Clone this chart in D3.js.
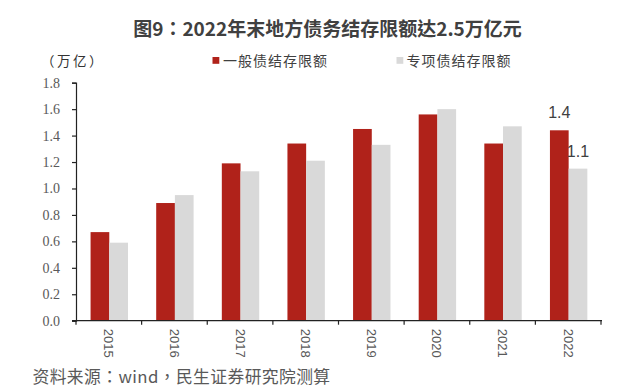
<!DOCTYPE html>
<html><head><meta charset="utf-8">
<script src="https://cdn.jsdelivr.net/npm/d3@7/dist/d3.min.js"></script>
<style>body{margin:0;background:#fff}svg{display:block}</style>
</head><body>
<script>
const categories = ["2015","2016","2017","2018","2019","2020","2021","2022"];
const seriesNames = ["一般债结存限额","专项债结存限额"];
const general = [0.67,0.89,1.19,1.34,1.45,1.56,1.34,1.44];
const special = [0.59,0.95,1.13,1.21,1.33,1.60,1.47,1.15];
const yTicks = [0,0.2,0.4,0.6,0.8,1.0,1.2,1.4,1.6,1.8];
const lastLabels = ["1.4","1.1"];
const title = "图9：2022年末地方债务结存限额达2.5万亿元";
const unit = "（万亿）";
const source = "资料来源：wind，民生证券研究院测算";
const colors = ["#B0221A","#D9D9D9"];

const W=640,H=387;
const svg=d3.select("body").append("svg").attr("width",W).attr("height",H);
const x=d3.scaleBand().domain(categories).range([76,601]).padding(0);
const bw=x.bandwidth();
const xs=d3.scaleBand().domain([0,1]).range([bw*0.222,bw*0.222+bw*0.57]);
const y=d3.scaleLinear().domain([0,1.8]).range([320.7,82.7]);

svg.append("text").attr("x",327.5).attr("y",35.5).attr("text-anchor","middle")
  .attr("font-family","'Noto Sans CJK TC'").attr("font-weight","bold").attr("font-size",19)
  .attr("fill","#404040").text(title);

svg.append("text").attr("x",41).attr("y",66).attr("font-family","'Noto Sans CJK TC'")
  .attr("font-size",13.5).attr("letter-spacing",2.5).attr("fill","#333").text(unit);

// legend
const leg=[{x:212.5,tx:223},{x:396.5,tx:406.5}];
leg.forEach((l,i)=>{
  svg.append("rect").attr("x",l.x).attr("y",57).attr("width",6.8).attr("height",6.8).attr("fill",colors[i]);
  svg.append("text").attr("x",l.tx).attr("y",66).attr("font-family","'Noto Sans CJK SC'")
    .attr("font-size",14).attr("letter-spacing",1).attr("fill","#404040").text(seriesNames[i]);
});

const series=[general,special];
series.forEach((vals,si)=>{
  svg.append("g").selectAll("rect").data(vals).join("rect")
    .attr("x",(d,i)=>x(categories[i])+xs(si)).attr("width",xs.bandwidth())
    .attr("y",d=>y(d)).attr("height",d=>y(0)-y(d)).attr("fill",colors[si]);
});

// labels for last category
const li=categories.length-1;
series.forEach((vals,si)=>{
  svg.append("text").attr("x",x(categories[li])+xs(si)+xs.bandwidth()/2).attr("y",y(vals[li])-12)
    .attr("text-anchor","middle").attr("font-family","'Liberation Sans',Arial").attr("font-size",16)
    .attr("fill","#404040").text(lastLabels[si]);
});

// y axis
const ya=svg.append("g").attr("transform","translate(76,0)")
  .call(d3.axisLeft(y).tickValues(yTicks).tickFormat(d3.format(".1f")).tickSize(4).tickPadding(12));
ya.select(".domain").attr("stroke","#222").attr("stroke-width",1.2);
ya.selectAll(".tick line").attr("stroke","#222").attr("stroke-width",1.2);
ya.selectAll("text").attr("font-family","'Liberation Serif','Times New Roman'").attr("font-size",14).attr("fill","#595959");

// x axis
const xg=svg.append("g");
xg.append("line").attr("x1",72).attr("x2",x.range()[1]+1).attr("y1",y(0)).attr("y2",y(0))
  .attr("stroke","#222").attr("stroke-width",1.2);
const bounds=categories.map(c=>x(c)).concat([x.range()[1]]);
xg.selectAll("line.t").data(bounds).join("line").attr("class","t")
  .attr("x1",d=>d).attr("x2",d=>d).attr("y1",y(0)).attr("y2",y(0)+4)
  .attr("stroke","#222").attr("stroke-width",1.2);
xg.selectAll("text").data(categories).join("text")
  .attr("transform",d=>`translate(${x(d)+bw/2-4.5},${y(0)+8}) rotate(90)`)
  .attr("font-family","'Liberation Sans',Arial").attr("font-size",13).attr("fill","#595959")
  .text(d=>d);

svg.append("text").attr("x",32.5).attr("y",382.5).attr("font-family","'Noto Sans CJK TC'")
  .attr("font-size",16.8).attr("letter-spacing",0.4).attr("fill","#595959").text(source);
</script>
</body></html>
